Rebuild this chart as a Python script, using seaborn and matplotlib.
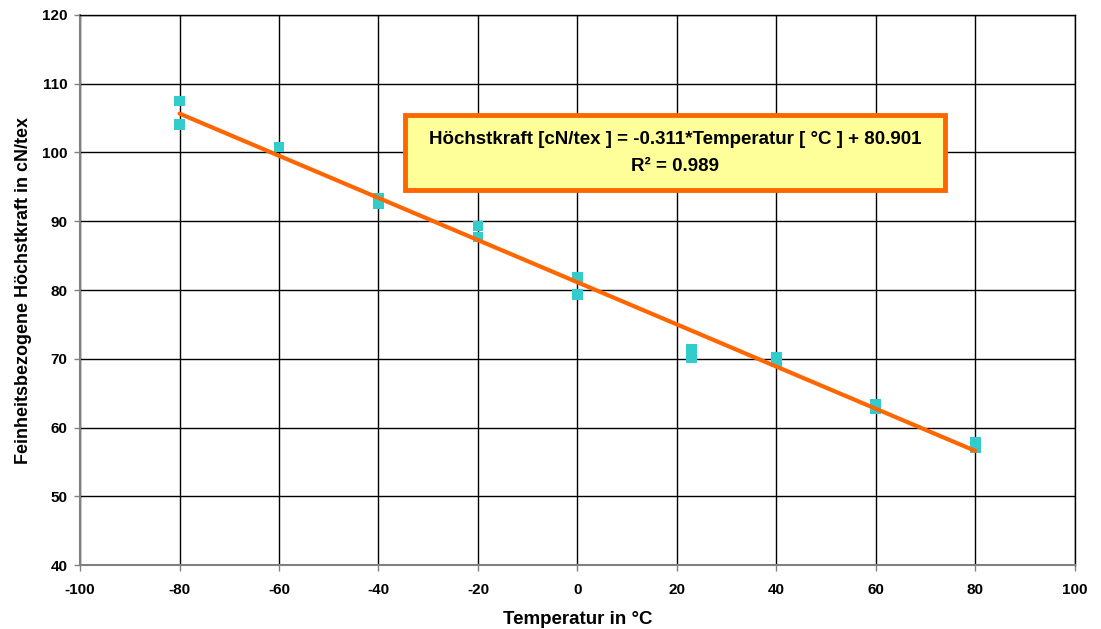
import numpy as np
import pandas as pd
import matplotlib
matplotlib.use("Agg")
import matplotlib.pyplot as plt
from matplotlib.patches import Rectangle
import seaborn as sns

# Data
temperature = [-80, -80, -60, -40, -40, -20, -20, 0, 0, 23, 23, 40, 40, 60, 60, 80, 80]
hoechstkraft = [107.5, 104.1, 100.8, 93.3, 92.6, 89.3, 87.7, 81.9, 79.3, 71.4, 70.1, 70.2, 69.6, 63.3, 62.8, 57.9, 57.1]
x_ticks = [-100, -80, -60, -40, -20, 0, 20, 40, 60, 80, 100]
y_ticks = [40, 50, 60, 70, 80, 90, 100, 110, 120]
equation_text = "Höchstkraft [cN/tex ] = -0.311*Temperatur [ °C ] + 80.901"
r2_text = "R² = 0.989"

df = pd.DataFrame({"Temperatur": temperature, "Hoechstkraft": hoechstkraft})

sns.set_theme(style="white")
plt.rcParams["font.family"] = ["Liberation Sans", "DejaVu Sans"]
plt.rcParams["font.weight"] = "bold"
plt.rcParams["axes.unicode_minus"] = False
plt.rcParams["text.color"] = "black"
plt.rcParams["axes.labelcolor"] = "black"
plt.rcParams["xtick.color"] = "black"
plt.rcParams["ytick.color"] = "black"

fig = plt.figure(figsize=(11.01, 6.29), dpi=100)
ax = fig.add_axes([0.0727, 0.1017, 0.9035, 0.8745])

ax.set_axisbelow(True)
ax.grid(True, color="black", linewidth=1.0)

sns.scatterplot(data=df, x="Temperatur", y="Hoechstkraft", marker="s", s=60,
                color="#33CCCC", edgecolor="none", ax=ax, zorder=3)
sns.regplot(data=df, x="Temperatur", y="Hoechstkraft", scatter=False, ci=None,
            color="#FF6600", line_kws={"linewidth": 3, "zorder": 4}, ax=ax)

ax.set_xlim(-100, 100)
ax.set_ylim(40, 120)
ax.set_xticks(x_ticks)
ax.set_yticks(y_ticks)
ax.tick_params(axis="both", which="both", direction="out", length=4, width=1,
               color="gray", labelsize=11, bottom=True, left=True, labelcolor="black")
ax.tick_params(axis="x", pad=9)
ax.tick_params(axis="y", pad=5)
for lbl in ax.get_xticklabels() + ax.get_yticklabels():
    lbl.set_fontweight("bold")

for side in ["left", "bottom"]:
    ax.spines[side].set_color("gray")
    ax.spines[side].set_linewidth(1.5)
for side in ["top", "right"]:
    ax.spines[side].set_color("black")
    ax.spines[side].set_linewidth(1.0)

ax.set_xlabel("Temperatur in °C", fontsize=13.5, fontweight="bold", labelpad=10, color="black")
ax.set_ylabel("Feinheitsbezogene Höchstkraft in cN/tex", fontsize=13, fontweight="bold",
              labelpad=7, color="black")

# Equation box
ax.add_patch(Rectangle((0.3266, 0.6818), 0.5427, 0.1364, transform=ax.transAxes,
                       facecolor="#FFFF99", edgecolor="#FF6600", linewidth=3.5, zorder=5))
ax.text(0.598, 0.749, equation_text + "\n" + r2_text, transform=ax.transAxes,
        ha="center", va="center", fontsize=13.5, fontweight="bold", linespacing=1.75,
        color="black", zorder=6)

fig.savefig("out.png", dpi=100)
